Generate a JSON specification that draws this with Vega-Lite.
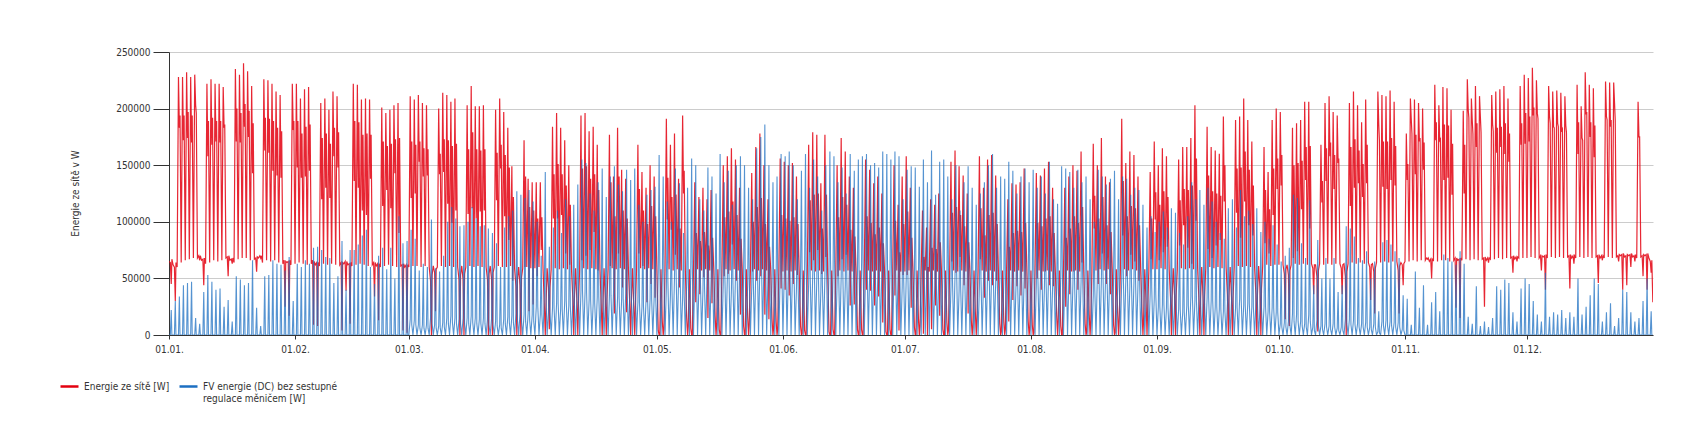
{
  "$schema": "https://vega.github.io/schema/vega-lite/v6.json",
  "width": 1484,
  "height": 283,
  "autosize": {"type": "none"},
  "padding": {"left": 169, "top": 52, "right": 52, "bottom": 88},
  "background": "white",
  "config": {
    "view": {"stroke": null},
    "font": "DejaVu Sans Condensed",
    "axis": {
      "labelFont": "DejaVu Sans Condensed",
      "titleFont": "DejaVu Sans Condensed",
      "labelFontSize": 10,
      "labelColor": "#333333",
      "domainColor": "#333333",
      "tickColor": "#333333",
      "gridColor": "#cccccc",
      "titleColor": "#333333",
      "titleFontWeight": "normal",
      "titleFontSize": 10
    },
    "legend": {
      "labelFont": "DejaVu Sans Condensed",
      "labelFontSize": 10,
      "labelColor": "#333333"
    }
  },
  "data": {
    "values": [
{"d":0,"r":65000,"b":0},{"d":0.33,"r":64000,"b":0},{"d":0.55,"r":45000,"b":22000},{"d":0.71,"r":67000,"b":0},
{"d":1,"r":62000,"b":0},{"d":1.33,"r":60000,"b":0},{"d":1.55,"r":30000,"b":30000},{"d":1.71,"r":64000,"b":0},
{"d":2,"r":60000,"b":0},{"d":2.33,"r":228000,"b":0},{"d":2.55,"r":183000,"b":34000},{"d":2.71,"r":194000,"b":0},
{"d":3,"r":64000,"b":0},{"d":3.33,"r":228000,"b":0},{"d":3.55,"r":172000,"b":44000},{"d":3.71,"r":194000,"b":0},
{"d":4,"r":66000,"b":0},{"d":4.33,"r":232000,"b":0},{"d":4.55,"r":174000,"b":46000},{"d":4.71,"r":197000,"b":0},
{"d":5,"r":67000,"b":0},{"d":5.33,"r":228000,"b":0},{"d":5.55,"r":170000,"b":47000},{"d":5.71,"r":194000,"b":0},
{"d":6,"r":68000,"b":0},{"d":6.33,"r":230000,"b":0},{"d":6.55,"r":203000,"b":15000},{"d":6.71,"r":196000,"b":0},
{"d":7,"r":68000,"b":0},{"d":7.33,"r":70000,"b":0},{"d":7.55,"r":66000,"b":10000},{"d":7.71,"r":70000,"b":0},
{"d":8,"r":66000,"b":0},{"d":8.33,"r":67000,"b":0},{"d":8.55,"r":44000,"b":38000},{"d":8.71,"r":68000,"b":0},
{"d":9,"r":63000,"b":0},{"d":9.33,"r":222000,"b":0},{"d":9.55,"r":158000,"b":53000},{"d":9.71,"r":189000,"b":0},
{"d":10,"r":64000,"b":0},{"d":10.33,"r":226000,"b":0},{"d":10.55,"r":168000,"b":47000},{"d":10.71,"r":192000,"b":0},
{"d":11,"r":66000,"b":0},{"d":11.33,"r":222000,"b":0},{"d":11.55,"r":171000,"b":40000},{"d":11.71,"r":189000,"b":0},
{"d":12,"r":65000,"b":0},{"d":12.33,"r":222000,"b":0},{"d":12.55,"r":170000,"b":41000},{"d":12.71,"r":189000,"b":0},
{"d":13,"r":66000,"b":0},{"d":13.33,"r":219000,"b":0},{"d":13.55,"r":183000,"b":25000},{"d":13.71,"r":186000,"b":0},
{"d":14,"r":68000,"b":0},{"d":14.33,"r":69000,"b":0},{"d":14.55,"r":52000,"b":31000},{"d":14.71,"r":70000,"b":0},
{"d":15,"r":66000,"b":0},{"d":15.33,"r":67000,"b":0},{"d":15.55,"r":63000,"b":12000},{"d":15.71,"r":68000,"b":0},
{"d":16,"r":64000,"b":0},{"d":16.33,"r":235000,"b":0},{"d":16.55,"r":171000,"b":52000},{"d":16.71,"r":200000,"b":0},
{"d":17,"r":67000,"b":0},{"d":17.33,"r":230000,"b":0},{"d":17.55,"r":170000,"b":49000},{"d":17.71,"r":196000,"b":0},
{"d":18,"r":68000,"b":0},{"d":18.33,"r":240000,"b":0},{"d":18.55,"r":184000,"b":44000},{"d":18.71,"r":204000,"b":0},
{"d":19,"r":68000,"b":0},{"d":19.33,"r":233000,"b":0},{"d":19.55,"r":175000,"b":46000},{"d":19.71,"r":198000,"b":0},
{"d":20,"r":66000,"b":0},{"d":20.33,"r":220000,"b":0},{"d":20.55,"r":143000,"b":66000},{"d":20.71,"r":187000,"b":0},
{"d":21,"r":67000,"b":0},{"d":21.33,"r":68000,"b":0},{"d":21.55,"r":56000,"b":24000},{"d":21.71,"r":69000,"b":0},
{"d":22,"r":68000,"b":0},{"d":22.33,"r":70000,"b":0},{"d":22.55,"r":68000,"b":8000},{"d":22.71,"r":70000,"b":0},
{"d":23,"r":64000,"b":0},{"d":23.33,"r":226000,"b":0},{"d":23.55,"r":163000,"b":52000},{"d":23.71,"r":192000,"b":0},
{"d":24,"r":66000,"b":0},{"d":24.33,"r":225000,"b":0},{"d":24.55,"r":161000,"b":53000},{"d":24.71,"r":191000,"b":0},
{"d":25,"r":65000,"b":0},{"d":25.33,"r":222000,"b":0},{"d":25.55,"r":145000,"b":66000},{"d":25.71,"r":189000,"b":0},
{"d":26,"r":66000,"b":0},{"d":26.33,"r":215000,"b":0},{"d":26.55,"r":141000,"b":63000},{"d":26.71,"r":183000,"b":0},
{"d":27,"r":64000,"b":0},{"d":27.33,"r":212000,"b":0},{"d":27.55,"r":139000,"b":62000},{"d":27.71,"r":180000,"b":0},
{"d":28,"r":63000,"b":0},{"d":28.33,"r":66000,"b":0},{"d":28.55,"r":25000,"b":57000},{"d":28.71,"r":65000,"b":0},
{"d":29,"r":64000,"b":0},{"d":29.33,"r":65000,"b":0},{"d":29.55,"r":17000,"b":69000},{"d":29.71,"r":66000,"b":0},
{"d":30,"r":62000,"b":0},{"d":30.33,"r":222000,"b":0},{"d":30.55,"r":181000,"b":30000},{"d":30.71,"r":189000,"b":0},
{"d":31,"r":63000,"b":0},{"d":31.33,"r":222000,"b":0},{"d":31.55,"r":148000,"b":63000},{"d":31.71,"r":189000,"b":0},
{"d":32,"r":64000,"b":0},{"d":32.33,"r":209000,"b":0},{"d":32.55,"r":139000,"b":60000},{"d":32.71,"r":178000,"b":0},
{"d":33,"r":63000,"b":0},{"d":33.33,"r":217000,"b":0},{"d":33.55,"r":140000,"b":66000},{"d":33.71,"r":184000,"b":0},
{"d":34,"r":62000,"b":0},{"d":34.33,"r":219000,"b":0},{"d":34.55,"r":145000,"b":63000},{"d":34.71,"r":186000,"b":0},
{"d":35,"r":63000,"b":0},{"d":35.33,"r":66000,"b":0},{"d":35.55,"r":9000,"b":77000},{"d":35.71,"r":65000,"b":0},
{"d":36,"r":62000,"b":0},{"d":36.33,"r":64000,"b":0},{"d":36.55,"r":8000,"b":78000},{"d":36.71,"r":64000,"b":0},
{"d":37,"r":61000,"b":0},{"d":37.33,"r":205000,"b":0},{"d":37.55,"r":120000,"b":75000},{"d":37.71,"r":174000,"b":0},
{"d":38,"r":63000,"b":0},{"d":38.33,"r":209000,"b":0},{"d":38.55,"r":130000,"b":69000},{"d":38.71,"r":178000,"b":0},
{"d":39,"r":62000,"b":0},{"d":39.33,"r":199000,"b":0},{"d":39.55,"r":121000,"b":68000},{"d":39.71,"r":169000,"b":0},
{"d":40,"r":63000,"b":0},{"d":40.33,"r":215000,"b":0},{"d":40.55,"r":158000,"b":46000},{"d":40.71,"r":183000,"b":0},
{"d":41,"r":62000,"b":0},{"d":41.33,"r":211000,"b":0},{"d":41.55,"r":148000,"b":52000},{"d":41.71,"r":179000,"b":0},
{"d":42,"r":62000,"b":0},{"d":42.33,"r":64000,"b":0},{"d":42.55,"r":4000,"b":83000},{"d":42.71,"r":64000,"b":0},
{"d":43,"r":63000,"b":0},{"d":43.33,"r":65000,"b":0},{"d":43.55,"r":39000,"b":40000},{"d":43.71,"r":65000,"b":0},
{"d":44,"r":62000,"b":0},{"d":44.33,"r":63000,"b":0},{"d":44.55,"r":10000,"b":75000},{"d":44.71,"r":64000,"b":0},
{"d":45,"r":61000,"b":0},{"d":45.33,"r":222000,"b":0},{"d":45.55,"r":136000,"b":75000},{"d":45.71,"r":189000,"b":0},
{"d":46,"r":62000,"b":0},{"d":46.33,"r":221000,"b":0},{"d":46.55,"r":130000,"b":80000},{"d":46.71,"r":188000,"b":0},
{"d":47,"r":63000,"b":0},{"d":47.33,"r":208000,"b":0},{"d":47.55,"r":110000,"b":88000},{"d":47.71,"r":177000,"b":0},
{"d":48,"r":62000,"b":0},{"d":48.33,"r":209000,"b":0},{"d":48.55,"r":106000,"b":93000},{"d":48.71,"r":178000,"b":0},
{"d":49,"r":61000,"b":0},{"d":49.33,"r":208000,"b":0},{"d":49.55,"r":138000,"b":60000},{"d":49.71,"r":177000,"b":0},
{"d":50,"r":62000,"b":0},{"d":50.33,"r":64000,"b":0},{"d":50.55,"r":34000,"b":45000},{"d":50.71,"r":64000,"b":0},
{"d":51,"r":61000,"b":0},{"d":51.33,"r":63000,"b":0},{"d":51.55,"r":13000,"b":70000},{"d":51.71,"r":63000,"b":0},
{"d":52,"r":60000,"b":0},{"d":52.33,"r":201000,"b":0},{"d":52.55,"r":114000,"b":77000},{"d":52.71,"r":171000,"b":0},
{"d":53,"r":61000,"b":0},{"d":53.33,"r":196000,"b":0},{"d":53.55,"r":128000,"b":58000},{"d":53.71,"r":167000,"b":0},
{"d":54,"r":62000,"b":0},{"d":54.33,"r":199000,"b":0},{"d":54.55,"r":112000,"b":77000},{"d":54.71,"r":169000,"b":0},
{"d":55,"r":61000,"b":0},{"d":55.33,"r":203000,"b":0},{"d":55.55,"r":143000,"b":50000},{"d":55.71,"r":173000,"b":0},
{"d":56,"r":60000,"b":0},{"d":56.33,"r":205000,"b":0},{"d":56.55,"r":90000,"b":105000},{"d":56.71,"r":174000,"b":0},
{"d":57,"r":61000,"b":0},{"d":57.33,"r":62000,"b":0},{"d":57.55,"r":4000,"b":81000},{"d":57.71,"r":63000,"b":0},
{"d":58,"r":60000,"b":0},{"d":58.33,"r":62000,"b":0},{"d":58.55,"r":2000,"b":83000},{"d":58.71,"r":62000,"b":0},
{"d":59,"r":60000,"b":0},{"d":59.33,"r":211000,"b":14000},{"d":59.55,"r":121000,"b":93000},{"d":59.71,"r":171000,"b":9000},
{"d":60,"r":61000,"b":0},{"d":60.33,"r":208000,"b":13000},{"d":60.55,"r":125000,"b":85000},{"d":60.71,"r":168000,"b":9000},
{"d":61,"r":61000,"b":0},{"d":61.33,"r":212000,"b":9000},{"d":61.55,"r":153000,"b":57000},{"d":61.71,"r":171000,"b":6000},
{"d":62,"r":60000,"b":0},{"d":62.33,"r":205000,"b":9000},{"d":62.55,"r":140000,"b":63000},{"d":62.71,"r":165000,"b":6000},
{"d":63,"r":61000,"b":0},{"d":63.33,"r":203000,"b":9000},{"d":63.55,"r":141000,"b":60000},{"d":63.71,"r":164000,"b":6000},
{"d":64,"r":60000,"b":0},{"d":64.33,"r":48000,"b":15000},{"d":64.55,"r":0,"b":102000},{"d":64.71,"r":53000,"b":10000},
{"d":65,"r":61000,"b":0},{"d":65.33,"r":55000,"b":9000},{"d":65.55,"r":21000,"b":59000},{"d":65.71,"r":58000,"b":6000},
{"d":66,"r":60000,"b":0},{"d":66.33,"r":200000,"b":8000},{"d":66.55,"r":142000,"b":56000},{"d":66.71,"r":160000,"b":6000},
{"d":67,"r":61000,"b":0},{"d":67.33,"r":214000,"b":11000},{"d":67.55,"r":144000,"b":70000},{"d":67.71,"r":173000,"b":7000},
{"d":68,"r":60000,"b":0},{"d":68.33,"r":212000,"b":15000},{"d":68.55,"r":116000,"b":100000},{"d":68.71,"r":172000,"b":10000},
{"d":69,"r":61000,"b":0},{"d":69.33,"r":206000,"b":17000},{"d":69.55,"r":99000,"b":113000},{"d":69.71,"r":167000,"b":11000},
{"d":70,"r":60000,"b":0},{"d":70.33,"r":209000,"b":15000},{"d":70.55,"r":110000,"b":103000},{"d":70.71,"r":169000,"b":10000},
{"d":71,"r":60000,"b":0},{"d":71.33,"r":49000,"b":14000},{"d":71.55,"r":0,"b":96000},{"d":71.71,"r":53000,"b":10000},
{"d":72,"r":61000,"b":0},{"d":72.33,"r":49000,"b":15000},{"d":72.55,"r":0,"b":97000},{"d":72.71,"r":54000,"b":10000},
{"d":73,"r":60000,"b":0},{"d":73.33,"r":203000,"b":15000},{"d":73.55,"r":107000,"b":100000},{"d":73.71,"r":164000,"b":10000},
{"d":74,"r":61000,"b":0},{"d":74.33,"r":220000,"b":17000},{"d":74.55,"r":112000,"b":113000},{"d":74.71,"r":179000,"b":11000},
{"d":75,"r":60000,"b":0},{"d":75.33,"r":202000,"b":15000},{"d":75.55,"r":103000,"b":103000},{"d":75.71,"r":164000,"b":10000},
{"d":76,"r":61000,"b":0},{"d":76.33,"r":202000,"b":14000},{"d":76.55,"r":109000,"b":96000},{"d":76.71,"r":163000,"b":10000},
{"d":77,"r":60000,"b":0},{"d":77.33,"r":203000,"b":15000},{"d":77.55,"r":110000,"b":97000},{"d":77.71,"r":164000,"b":10000},
{"d":78,"r":60000,"b":0},{"d":78.33,"r":49000,"b":14000},{"d":78.55,"r":0,"b":94000},{"d":78.71,"r":54000,"b":9000},
{"d":79,"r":61000,"b":0},{"d":79.33,"r":50000,"b":14000},{"d":79.55,"r":0,"b":90000},{"d":79.71,"r":55000,"b":9000},
{"d":80,"r":60000,"b":0},{"d":80.33,"r":199000,"b":12000},{"d":80.55,"r":119000,"b":81000},{"d":80.71,"r":161000,"b":8000},
{"d":81,"r":61000,"b":0},{"d":81.33,"r":209000,"b":9000},{"d":81.55,"r":147000,"b":60000},{"d":81.71,"r":168000,"b":6000},
{"d":82,"r":60000,"b":0},{"d":82.33,"r":197000,"b":14000},{"d":82.55,"r":105000,"b":95000},{"d":82.71,"r":159000,"b":10000},
{"d":83,"r":60000,"b":0},{"d":83.33,"r":183000,"b":16000},{"d":83.55,"r":84000,"b":105000},{"d":83.71,"r":148000,"b":11000},
{"d":84,"r":61000,"b":0},{"d":84.33,"r":149000,"b":17000},{"d":84.55,"r":48000,"b":110000},{"d":84.71,"r":122000,"b":11000},
{"d":85,"r":59000,"b":0},{"d":85.33,"r":43000,"b":19000},{"d":85.55,"r":0,"b":127000},{"d":85.71,"r":49000,"b":13000},
{"d":86,"r":60000,"b":0},{"d":86.33,"r":44000,"b":19000},{"d":86.55,"r":0,"b":124000},{"d":86.71,"r":51000,"b":12000},
{"d":87,"r":59000,"b":0},{"d":87.33,"r":172000,"b":18000},{"d":87.55,"r":60000,"b":121000},{"d":87.71,"r":140000,"b":12000},
{"d":88,"r":60000,"b":0},{"d":88.33,"r":138000,"b":19000},{"d":88.55,"r":21000,"b":128000},{"d":88.71,"r":113000,"b":13000},
{"d":89,"r":59000,"b":0},{"d":89.33,"r":135000,"b":18000},{"d":89.55,"r":27000,"b":118000},{"d":89.71,"r":110000,"b":12000},
{"d":90,"r":59000,"b":0},{"d":90.33,"r":135000,"b":25000},{"d":90.55,"r":52000,"b":100000},{"d":90.71,"r":103000,"b":25000},
{"d":91,"r":60000,"b":0},{"d":91.33,"r":135000,"b":18000},{"d":91.55,"r":75000,"b":70000},{"d":91.71,"r":104000,"b":18000},
{"d":92,"r":58000,"b":0},{"d":92.33,"r":25000,"b":36000},{"d":92.55,"r":0,"b":144000},{"d":92.71,"r":25000,"b":36000},
{"d":93,"r":59000,"b":0},{"d":93.33,"r":42000,"b":20000},{"d":93.55,"r":5000,"b":78000},{"d":93.71,"r":42000,"b":20000},
{"d":94,"r":58000,"b":0},{"d":94.33,"r":184000,"b":24000},{"d":94.55,"r":103000,"b":95000},{"d":94.71,"r":142000,"b":24000},
{"d":95,"r":59000,"b":0},{"d":95.33,"r":196000,"b":28000},{"d":95.55,"r":103000,"b":110000},{"d":95.71,"r":151000,"b":28000},
{"d":96,"r":58000,"b":0},{"d":96.33,"r":183000,"b":23000},{"d":96.55,"r":106000,"b":90000},{"d":96.71,"r":142000,"b":23000},
{"d":97,"r":59000,"b":0},{"d":97.33,"r":172000,"b":30000},{"d":97.55,"r":72000,"b":120000},{"d":97.71,"r":132000,"b":30000},
{"d":98,"r":58000,"b":0},{"d":98.33,"r":150000,"b":26000},{"d":98.55,"r":62000,"b":105000},{"d":98.71,"r":115000,"b":26000},
{"d":99,"r":58000,"b":0},{"d":99.33,"r":32000,"b":29000},{"d":99.55,"r":0,"b":115000},{"d":99.71,"r":32000,"b":29000},
{"d":100,"r":59000,"b":0},{"d":100.33,"r":29000,"b":33000},{"d":100.55,"r":0,"b":133000},{"d":100.71,"r":29000,"b":33000},
{"d":101,"r":58000,"b":0},{"d":101.33,"r":194000,"b":39000},{"d":101.55,"r":66000,"b":155000},{"d":101.71,"r":147000,"b":39000},
{"d":102,"r":59000,"b":0},{"d":102.33,"r":196000,"b":38000},{"d":102.55,"r":70000,"b":152000},{"d":102.71,"r":149000,"b":38000},
{"d":103,"r":58000,"b":0},{"d":103.33,"r":180000,"b":31000},{"d":103.55,"r":75000,"b":125000},{"d":103.71,"r":138000,"b":31000},
{"d":104,"r":59000,"b":0},{"d":104.33,"r":184000,"b":28000},{"d":104.55,"r":91000,"b":110000},{"d":104.71,"r":142000,"b":28000},
{"d":105,"r":58000,"b":0},{"d":105.33,"r":168000,"b":34000},{"d":105.55,"r":57000,"b":135000},{"d":105.71,"r":128000,"b":34000},
{"d":106,"r":58000,"b":0},{"d":106.33,"r":24000,"b":37000},{"d":106.55,"r":0,"b":147000},{"d":106.71,"r":24000,"b":37000},
{"d":107,"r":59000,"b":0},{"d":107.33,"r":31000,"b":31000},{"d":107.55,"r":0,"b":122000},{"d":107.71,"r":31000,"b":31000},
{"d":108,"r":58000,"b":0},{"d":108.33,"r":177000,"b":35000},{"d":108.55,"r":61000,"b":140000},{"d":108.71,"r":135000,"b":35000},
{"d":109,"r":59000,"b":0},{"d":109.33,"r":140000,"b":37000},{"d":109.55,"r":19000,"b":149000},{"d":109.71,"r":105000,"b":37000},
{"d":110,"r":58000,"b":0},{"d":110.33,"r":183000,"b":33000},{"d":110.55,"r":72000,"b":133000},{"d":110.71,"r":140000,"b":33000},
{"d":111,"r":59000,"b":0},{"d":111.33,"r":146000,"b":32000},{"d":111.55,"r":42000,"b":127000},{"d":111.71,"r":110000,"b":32000},
{"d":112,"r":58000,"b":0},{"d":112.33,"r":138000,"b":37000},{"d":112.55,"r":20000,"b":146000},{"d":112.71,"r":103000,"b":37000},
{"d":113,"r":58000,"b":0},{"d":113.33,"r":27000,"b":34000},{"d":113.55,"r":0,"b":137000},{"d":113.71,"r":27000,"b":34000},
{"d":114,"r":59000,"b":0},{"d":114.33,"r":25000,"b":37000},{"d":114.55,"r":0,"b":147000},{"d":114.71,"r":25000,"b":37000},
{"d":115,"r":58000,"b":0},{"d":115.33,"r":168000,"b":29000},{"d":115.55,"r":72000,"b":115000},{"d":115.71,"r":129000,"b":29000},
{"d":116,"r":59000,"b":0},{"d":116.33,"r":144000,"b":25000},{"d":116.55,"r":61000,"b":100000},{"d":116.71,"r":110000,"b":25000},
{"d":117,"r":58000,"b":0},{"d":117.33,"r":130000,"b":31000},{"d":117.55,"r":29000,"b":124000},{"d":117.71,"r":98000,"b":31000},
{"d":118,"r":59000,"b":0},{"d":118.33,"r":150000,"b":32000},{"d":118.55,"r":45000,"b":128000},{"d":118.71,"r":114000,"b":32000},
{"d":119,"r":58000,"b":0},{"d":119.33,"r":140000,"b":33000},{"d":119.55,"r":33000,"b":131000},{"d":119.71,"r":105000,"b":33000},
{"d":120,"r":57000,"b":0},{"d":120.33,"r":4000,"b":56000},{"d":120.55,"r":0,"b":159000},{"d":120.71,"r":0,"b":64000},
{"d":121,"r":58000,"b":0},{"d":121.33,"r":12000,"b":49000},{"d":121.55,"r":0,"b":140000},{"d":121.71,"r":5000,"b":56000},
{"d":122,"r":57000,"b":0},{"d":122.33,"r":191000,"b":41000},{"d":122.55,"r":102000,"b":118000},{"d":122.71,"r":139000,"b":47000},
{"d":123,"r":58000,"b":0},{"d":123.33,"r":168000,"b":35000},{"d":123.55,"r":93000,"b":100000},{"d":123.71,"r":122000,"b":40000},
{"d":124,"r":57000,"b":0},{"d":124.33,"r":178000,"b":51000},{"d":124.55,"r":71000,"b":147000},{"d":124.71,"r":124000,"b":59000},
{"d":125,"r":58000,"b":0},{"d":125.33,"r":138000,"b":47000},{"d":125.55,"r":42000,"b":134000},{"d":125.71,"r":94000,"b":54000},
{"d":126,"r":57000,"b":0},{"d":126.33,"r":194000,"b":32000},{"d":126.55,"r":125000,"b":90000},{"d":126.71,"r":145000,"b":36000},
{"d":127,"r":57000,"b":0},{"d":127.33,"r":15000,"b":46000},{"d":127.55,"r":0,"b":130000},{"d":127.71,"r":8000,"b":52000},
{"d":128,"r":58000,"b":0},{"d":128.33,"r":6000,"b":55000},{"d":128.55,"r":0,"b":156000},{"d":128.71,"r":0,"b":62000},
{"d":129,"r":57000,"b":0},{"d":129.33,"r":135000,"b":53000},{"d":129.55,"r":29000,"b":150000},{"d":129.71,"r":90000,"b":60000},
{"d":130,"r":58000,"b":0},{"d":130.33,"r":122000,"b":42000},{"d":130.55,"r":36000,"b":120000},{"d":130.71,"r":83000,"b":48000},
{"d":131,"r":57000,"b":0},{"d":131.33,"r":130000,"b":39000},{"d":131.55,"r":51000,"b":110000},{"d":131.71,"r":91000,"b":44000},
{"d":132,"r":58000,"b":0},{"d":132.33,"r":120000,"b":52000},{"d":132.55,"r":15000,"b":148000},{"d":132.71,"r":79000,"b":59000},
{"d":133,"r":57000,"b":0},{"d":133.33,"r":128000,"b":49000},{"d":133.55,"r":28000,"b":140000},{"d":133.71,"r":86000,"b":56000},
{"d":134,"r":57000,"b":0},{"d":134.33,"r":16000,"b":44000},{"d":134.55,"r":0,"b":125000},{"d":134.71,"r":10000,"b":50000},
{"d":135,"r":58000,"b":0},{"d":135.33,"r":5000,"b":56000},{"d":135.55,"r":0,"b":160000},{"d":135.71,"r":0,"b":64000},
{"d":136,"r":57000,"b":0},{"d":136.33,"r":150000,"b":47000},{"d":136.55,"r":52000,"b":135000},{"d":136.71,"r":104000,"b":54000},
{"d":137,"r":58000,"b":0},{"d":137.33,"r":158000,"b":51000},{"d":137.55,"r":54000,"b":145000},{"d":137.71,"r":109000,"b":58000},
{"d":138,"r":57000,"b":0},{"d":138.33,"r":165000,"b":40000},{"d":138.55,"r":80000,"b":115000},{"d":138.71,"r":118000,"b":46000},
{"d":139,"r":58000,"b":0},{"d":139.33,"r":155000,"b":53000},{"d":139.55,"r":48000,"b":150000},{"d":139.71,"r":106000,"b":60000},
{"d":140,"r":57000,"b":0},{"d":140.33,"r":130000,"b":55000},{"d":140.55,"r":18000,"b":158000},{"d":140.71,"r":85000,"b":63000},
{"d":141,"r":57000,"b":0},{"d":141.33,"r":8000,"b":53000},{"d":141.55,"r":0,"b":150000},{"d":141.71,"r":0,"b":60000},
{"d":142,"r":58000,"b":0},{"d":142.33,"r":16000,"b":46000},{"d":142.55,"r":0,"b":130000},{"d":142.71,"r":9000,"b":52000},
{"d":143,"r":57000,"b":0},{"d":143.33,"r":143000,"b":42000},{"d":143.55,"r":56000,"b":120000},{"d":143.71,"r":100000,"b":48000},
{"d":144,"r":58000,"b":0},{"d":144.33,"r":166000,"b":58000},{"d":144.55,"r":48000,"b":165000},{"d":144.71,"r":113000,"b":66000},
{"d":145,"r":57000,"b":0},{"d":145.33,"r":178000,"b":61000},{"d":145.55,"r":52000,"b":175000},{"d":145.71,"r":121000,"b":70000},
{"d":146,"r":58000,"b":0},{"d":146.33,"r":150000,"b":65000},{"d":146.55,"r":18000,"b":186000},{"d":146.71,"r":98000,"b":74000},
{"d":147,"r":57000,"b":0},{"d":147.33,"r":120000,"b":53000},{"d":147.55,"r":14000,"b":150000},{"d":147.71,"r":78000,"b":60000},
{"d":148,"r":57000,"b":0},{"d":148.33,"r":13000,"b":47000},{"d":148.55,"r":0,"b":135000},{"d":148.71,"r":6000,"b":54000},
{"d":149,"r":58000,"b":0},{"d":149.33,"r":12000,"b":49000},{"d":149.55,"r":0,"b":140000},{"d":149.71,"r":5000,"b":56000},
{"d":150,"r":57000,"b":0},{"d":150.33,"r":156000,"b":56000},{"d":150.55,"r":41000,"b":160000},{"d":150.71,"r":106000,"b":64000},
{"d":151,"r":56000,"b":0},{"d":151.33,"r":153000,"b":55000},{"d":151.55,"r":40000,"b":158000},{"d":151.71,"r":103000,"b":63000},
{"d":152,"r":57000,"b":0},{"d":152.33,"r":150000,"b":57000},{"d":152.55,"r":35000,"b":162000},{"d":152.71,"r":101000,"b":65000},
{"d":153,"r":56000,"b":0},{"d":153.33,"r":152000,"b":53000},{"d":153.55,"r":45000,"b":150000},{"d":153.71,"r":104000,"b":60000},
{"d":154,"r":57000,"b":0},{"d":154.33,"r":140000,"b":42000},{"d":154.55,"r":53000,"b":120000},{"d":154.71,"r":98000,"b":48000},
{"d":155,"r":56000,"b":0},{"d":155.33,"r":8000,"b":51000},{"d":155.55,"r":0,"b":145000},{"d":155.71,"r":1000,"b":58000},
{"d":156,"r":57000,"b":0},{"d":156.33,"r":4000,"b":56000},{"d":156.55,"r":0,"b":160000},{"d":156.71,"r":0,"b":64000},
{"d":157,"r":56000,"b":0},{"d":157.33,"r":168000,"b":46000},{"d":157.55,"r":73000,"b":130000},{"d":157.71,"r":119000,"b":52000},
{"d":158,"r":57000,"b":0},{"d":158.33,"r":179000,"b":54000},{"d":158.55,"r":66000,"b":155000},{"d":158.71,"r":124000,"b":62000},
{"d":159,"r":56000,"b":0},{"d":159.33,"r":177000,"b":49000},{"d":159.55,"r":75000,"b":140000},{"d":159.71,"r":125000,"b":56000},
{"d":160,"r":57000,"b":0},{"d":160.33,"r":134000,"b":39000},{"d":160.55,"r":54000,"b":110000},{"d":160.71,"r":94000,"b":44000},
{"d":161,"r":56000,"b":0},{"d":161.33,"r":177000,"b":53000},{"d":161.55,"r":69000,"b":150000},{"d":161.71,"r":124000,"b":60000},
{"d":162,"r":56000,"b":0},{"d":162.33,"r":3000,"b":57000},{"d":162.55,"r":0,"b":162000},{"d":162.71,"r":0,"b":65000},
{"d":163,"r":57000,"b":0},{"d":163.33,"r":5000,"b":55000},{"d":163.55,"r":0,"b":158000},{"d":163.71,"r":0,"b":63000},
{"d":164,"r":56000,"b":0},{"d":164.33,"r":150000,"b":47000},{"d":164.55,"r":52000,"b":135000},{"d":164.71,"r":104000,"b":54000},
{"d":165,"r":57000,"b":0},{"d":165.33,"r":174000,"b":52000},{"d":165.55,"r":67000,"b":148000},{"d":165.71,"r":122000,"b":59000},
{"d":166,"r":56000,"b":0},{"d":166.33,"r":162000,"b":44000},{"d":166.55,"r":71000,"b":125000},{"d":166.71,"r":115000,"b":50000},
{"d":167,"r":57000,"b":0},{"d":167.33,"r":140000,"b":56000},{"d":167.55,"r":26000,"b":160000},{"d":167.71,"r":93000,"b":64000},
{"d":168,"r":56000,"b":0},{"d":168.33,"r":130000,"b":51000},{"d":168.55,"r":27000,"b":145000},{"d":168.71,"r":87000,"b":58000},
{"d":169,"r":56000,"b":0},{"d":169.33,"r":5000,"b":54000},{"d":169.55,"r":0,"b":155000},{"d":169.71,"r":0,"b":62000},
{"d":170,"r":57000,"b":0},{"d":170.33,"r":5000,"b":55000},{"d":170.55,"r":0,"b":158000},{"d":170.71,"r":0,"b":63000},
{"d":171,"r":56000,"b":0},{"d":171.33,"r":155000,"b":56000},{"d":171.55,"r":40000,"b":160000},{"d":171.71,"r":105000,"b":64000},
{"d":172,"r":57000,"b":0},{"d":172.33,"r":146000,"b":53000},{"d":172.55,"r":39000,"b":150000},{"d":172.71,"r":99000,"b":60000},
{"d":173,"r":56000,"b":0},{"d":173.33,"r":134000,"b":53000},{"d":173.55,"r":26000,"b":152000},{"d":173.71,"r":89000,"b":61000},
{"d":174,"r":57000,"b":0},{"d":174.33,"r":140000,"b":52000},{"d":174.55,"r":34000,"b":148000},{"d":174.71,"r":95000,"b":59000},
{"d":175,"r":56000,"b":0},{"d":175.33,"r":125000,"b":57000},{"d":175.55,"r":11000,"b":162000},{"d":175.71,"r":81000,"b":65000},
{"d":176,"r":56000,"b":0},{"d":176.33,"r":3000,"b":56000},{"d":176.55,"r":0,"b":160000},{"d":176.71,"r":0,"b":64000},
{"d":177,"r":57000,"b":0},{"d":177.33,"r":5000,"b":54000},{"d":177.55,"r":0,"b":155000},{"d":177.71,"r":0,"b":62000},
{"d":178,"r":56000,"b":0},{"d":178.33,"r":150000,"b":57000},{"d":178.55,"r":35000,"b":162000},{"d":178.71,"r":101000,"b":65000},
{"d":179,"r":57000,"b":0},{"d":179.33,"r":115000,"b":55000},{"d":179.55,"r":4000,"b":158000},{"d":179.71,"r":73000,"b":63000},
{"d":180,"r":56000,"b":0},{"d":180.33,"r":140000,"b":42000},{"d":180.55,"r":53000,"b":120000},{"d":180.71,"r":98000,"b":48000},
{"d":181,"r":56000,"b":0},{"d":181.33,"r":158000,"b":51000},{"d":181.55,"r":53000,"b":146000},{"d":181.71,"r":109000,"b":58000},
{"d":182,"r":57000,"b":0},{"d":182.33,"r":130000,"b":52000},{"d":182.55,"r":24000,"b":149000},{"d":182.71,"r":86000,"b":60000},
{"d":183,"r":56000,"b":0},{"d":183.33,"r":7000,"b":52000},{"d":183.55,"r":0,"b":148000},{"d":183.71,"r":0,"b":59000},
{"d":184,"r":57000,"b":0},{"d":184.33,"r":14000,"b":46000},{"d":184.55,"r":0,"b":131000},{"d":184.71,"r":8000,"b":52000},
{"d":185,"r":56000,"b":0},{"d":185.33,"r":110000,"b":54000},{"d":185.55,"r":1000,"b":155000},{"d":185.71,"r":69000,"b":62000},
{"d":186,"r":57000,"b":0},{"d":186.33,"r":95000,"b":47000},{"d":186.55,"r":0,"b":135000},{"d":186.71,"r":60000,"b":54000},
{"d":187,"r":56000,"b":0},{"d":187.33,"r":120000,"b":57000},{"d":187.55,"r":5000,"b":163000},{"d":187.71,"r":77000,"b":65000},
{"d":188,"r":57000,"b":0},{"d":188.33,"r":115000,"b":43000},{"d":188.55,"r":26000,"b":124000},{"d":188.71,"r":76000,"b":50000},
{"d":189,"r":56000,"b":0},{"d":189.33,"r":125000,"b":54000},{"d":189.55,"r":17000,"b":153000},{"d":189.71,"r":82000,"b":61000},
{"d":190,"r":56000,"b":0},{"d":190.33,"r":5000,"b":54000},{"d":190.55,"r":0,"b":155000},{"d":190.71,"r":0,"b":62000},
{"d":191,"r":57000,"b":0},{"d":191.33,"r":11000,"b":49000},{"d":191.55,"r":0,"b":140000},{"d":191.71,"r":4000,"b":56000},
{"d":192,"r":56000,"b":0},{"d":192.33,"r":153000,"b":42000},{"d":192.55,"r":65000,"b":120000},{"d":192.71,"r":108000,"b":48000},
{"d":193,"r":57000,"b":0},{"d":193.33,"r":163000,"b":53000},{"d":193.55,"r":55000,"b":150000},{"d":193.71,"r":113000,"b":60000},
{"d":194,"r":56000,"b":0},{"d":194.33,"r":149000,"b":39000},{"d":194.55,"r":69000,"b":110000},{"d":194.71,"r":106000,"b":44000},
{"d":195,"r":57000,"b":0},{"d":195.33,"r":141000,"b":47000},{"d":195.55,"r":44000,"b":135000},{"d":195.71,"r":96000,"b":54000},
{"d":196,"r":56000,"b":0},{"d":196.33,"r":125000,"b":52000},{"d":196.55,"r":19000,"b":149000},{"d":196.71,"r":82000,"b":60000},
{"d":197,"r":56000,"b":0},{"d":197.33,"r":13000,"b":46000},{"d":197.55,"r":0,"b":130000},{"d":197.71,"r":7000,"b":52000},
{"d":198,"r":57000,"b":0},{"d":198.33,"r":20000,"b":40000},{"d":198.55,"r":0,"b":115000},{"d":198.71,"r":14000,"b":46000},
{"d":199,"r":56000,"b":0},{"d":199.33,"r":158000,"b":44000},{"d":199.55,"r":67000,"b":125000},{"d":199.71,"r":112000,"b":50000},
{"d":200,"r":57000,"b":0},{"d":200.33,"r":130000,"b":47000},{"d":200.55,"r":33000,"b":135000},{"d":200.71,"r":88000,"b":54000},
{"d":201,"r":56000,"b":0},{"d":201.33,"r":155000,"b":53000},{"d":201.55,"r":48000,"b":150000},{"d":201.71,"r":106000,"b":60000},
{"d":202,"r":57000,"b":0},{"d":202.33,"r":159000,"b":56000},{"d":202.55,"r":44000,"b":160000},{"d":202.71,"r":108000,"b":64000},
{"d":203,"r":56000,"b":0},{"d":203.33,"r":141000,"b":46000},{"d":203.55,"r":48000,"b":130000},{"d":203.71,"r":98000,"b":52000},
{"d":204,"r":56000,"b":0},{"d":204.33,"r":10000,"b":49000},{"d":204.55,"r":0,"b":140000},{"d":204.71,"r":3000,"b":56000},
{"d":205,"r":57000,"b":0},{"d":205.33,"r":12000,"b":48000},{"d":205.55,"r":0,"b":138000},{"d":205.71,"r":5000,"b":55000},
{"d":206,"r":56000,"b":0},{"d":206.33,"r":120000,"b":54000},{"d":206.55,"r":12000,"b":153000},{"d":206.71,"r":78000,"b":61000},
{"d":207,"r":57000,"b":0},{"d":207.33,"r":134000,"b":51000},{"d":207.55,"r":31000,"b":145000},{"d":207.71,"r":90000,"b":58000},
{"d":208,"r":56000,"b":0},{"d":208.33,"r":133000,"b":44000},{"d":208.55,"r":43000,"b":125000},{"d":208.71,"r":92000,"b":50000},
{"d":209,"r":57000,"b":0},{"d":209.33,"r":135000,"b":49000},{"d":209.55,"r":35000,"b":140000},{"d":209.71,"r":91000,"b":56000},
{"d":210,"r":56000,"b":0},{"d":210.33,"r":147000,"b":51000},{"d":210.55,"r":41000,"b":147000},{"d":210.71,"r":99000,"b":59000},
{"d":211,"r":56000,"b":0},{"d":211.33,"r":12000,"b":47000},{"d":211.55,"r":0,"b":135000},{"d":211.71,"r":5000,"b":54000},
{"d":212,"r":57000,"b":0},{"d":212.33,"r":9000,"b":51000},{"d":212.55,"r":0,"b":146000},{"d":212.71,"r":2000,"b":58000},
{"d":213,"r":56000,"b":0},{"d":213.33,"r":143000,"b":46000},{"d":213.55,"r":50000,"b":130000},{"d":213.71,"r":99000,"b":52000},
{"d":214,"r":57000,"b":0},{"d":214.33,"r":141000,"b":49000},{"d":214.55,"r":40000,"b":140000},{"d":214.71,"r":96000,"b":56000},
{"d":215,"r":56000,"b":0},{"d":215.33,"r":147000,"b":44000},{"d":215.55,"r":56000,"b":125000},{"d":215.71,"r":103000,"b":50000},
{"d":216,"r":57000,"b":0},{"d":216.33,"r":153000,"b":54000},{"d":216.55,"r":44000,"b":153000},{"d":216.71,"r":105000,"b":61000},
{"d":217,"r":56000,"b":0},{"d":217.33,"r":130000,"b":42000},{"d":217.55,"r":43000,"b":120000},{"d":217.71,"r":90000,"b":48000},
{"d":218,"r":56000,"b":0},{"d":218.33,"r":18000,"b":41000},{"d":218.55,"r":0,"b":116000},{"d":218.71,"r":13000,"b":46000},
{"d":219,"r":57000,"b":0},{"d":219.33,"r":8000,"b":52000},{"d":219.55,"r":0,"b":149000},{"d":219.71,"r":0,"b":60000},
{"d":220,"r":56000,"b":0},{"d":220.33,"r":130000,"b":51000},{"d":220.55,"r":25000,"b":147000},{"d":220.71,"r":86000,"b":59000},
{"d":221,"r":57000,"b":0},{"d":221.33,"r":140000,"b":50000},{"d":221.55,"r":36000,"b":144000},{"d":221.71,"r":94000,"b":58000},
{"d":222,"r":56000,"b":0},{"d":222.33,"r":150000,"b":46000},{"d":222.55,"r":56000,"b":130000},{"d":222.71,"r":105000,"b":52000},
{"d":223,"r":57000,"b":0},{"d":223.33,"r":145000,"b":51000},{"d":223.55,"r":40000,"b":146000},{"d":223.71,"r":99000,"b":58000},
{"d":224,"r":56000,"b":0},{"d":224.33,"r":162000,"b":47000},{"d":224.55,"r":64000,"b":135000},{"d":224.71,"r":113000,"b":54000},
{"d":225,"r":56000,"b":0},{"d":225.33,"r":10000,"b":49000},{"d":225.55,"r":0,"b":140000},{"d":225.71,"r":3000,"b":56000},
{"d":226,"r":57000,"b":0},{"d":226.33,"r":18000,"b":42000},{"d":226.55,"r":0,"b":120000},{"d":226.71,"r":12000,"b":48000},
{"d":227,"r":57000,"b":0},{"d":227.33,"r":169000,"b":35000},{"d":227.55,"r":94000,"b":100000},{"d":227.71,"r":123000,"b":40000},
{"d":228,"r":57000,"b":0},{"d":228.33,"r":150000,"b":51000},{"d":228.55,"r":45000,"b":146000},{"d":228.71,"r":103000,"b":58000},
{"d":229,"r":58000,"b":0},{"d":229.33,"r":174000,"b":49000},{"d":229.55,"r":72000,"b":140000},{"d":229.71,"r":122000,"b":56000},
{"d":230,"r":57000,"b":0},{"d":230.33,"r":140000,"b":47000},{"d":230.55,"r":45000,"b":133000},{"d":230.71,"r":97000,"b":53000},
{"d":231,"r":58000,"b":0},{"d":231.33,"r":135000,"b":48000},{"d":231.55,"r":36000,"b":138000},{"d":231.71,"r":91000,"b":55000},
{"d":232,"r":57000,"b":0},{"d":232.33,"r":9000,"b":51000},{"d":232.55,"r":0,"b":145000},{"d":232.71,"r":2000,"b":58000},
{"d":233,"r":58000,"b":0},{"d":233.33,"r":19000,"b":42000},{"d":233.55,"r":0,"b":120000},{"d":233.71,"r":13000,"b":48000},
{"d":234,"r":57000,"b":0},{"d":234.33,"r":191000,"b":49000},{"d":234.55,"r":88000,"b":140000},{"d":234.71,"r":136000,"b":56000},
{"d":235,"r":58000,"b":0},{"d":235.33,"r":152000,"b":48000},{"d":235.55,"r":52000,"b":138000},{"d":235.71,"r":105000,"b":55000},
{"d":236,"r":57000,"b":0},{"d":236.33,"r":162000,"b":43000},{"d":236.55,"r":71000,"b":124000},{"d":236.71,"r":114000,"b":50000},
{"d":237,"r":58000,"b":0},{"d":237.33,"r":159000,"b":46000},{"d":237.55,"r":65000,"b":130000},{"d":237.71,"r":112000,"b":52000},
{"d":238,"r":57000,"b":0},{"d":238.33,"r":140000,"b":45000},{"d":238.55,"r":48000,"b":128000},{"d":238.71,"r":97000,"b":51000},
{"d":239,"r":57000,"b":0},{"d":239.33,"r":20000,"b":40000},{"d":239.55,"r":0,"b":115000},{"d":239.71,"r":14000,"b":46000},
{"d":240,"r":58000,"b":0},{"d":240.33,"r":28000,"b":33000},{"d":240.55,"r":0,"b":95000},{"d":240.71,"r":23000,"b":38000},
{"d":241,"r":57000,"b":0},{"d":241.33,"r":144000,"b":37000},{"d":241.55,"r":67000,"b":105000},{"d":241.71,"r":103000,"b":42000},
{"d":242,"r":58000,"b":0},{"d":242.33,"r":171000,"b":32000},{"d":242.55,"r":102000,"b":91000},{"d":242.71,"r":126000,"b":36000},
{"d":243,"r":58000,"b":0},{"d":243.33,"r":150000,"b":25000},{"d":243.55,"r":66000,"b":100000},{"d":243.71,"r":115000,"b":25000},
{"d":244,"r":59000,"b":0},{"d":244.33,"r":165000,"b":27000},{"d":244.55,"r":73000,"b":109000},{"d":244.71,"r":127000,"b":27000},
{"d":245,"r":58000,"b":0},{"d":245.33,"r":158000,"b":24000},{"d":245.55,"r":78000,"b":95000},{"d":245.71,"r":122000,"b":24000},
{"d":246,"r":58000,"b":0},{"d":246.33,"r":33000,"b":28000},{"d":246.55,"r":0,"b":112000},{"d":246.71,"r":33000,"b":28000},
{"d":247,"r":59000,"b":0},{"d":247.33,"r":35000,"b":27000},{"d":247.55,"r":0,"b":108000},{"d":247.71,"r":35000,"b":27000},
{"d":248,"r":58000,"b":0},{"d":248.33,"r":155000,"b":23000},{"d":248.55,"r":79000,"b":90000},{"d":248.71,"r":119000,"b":23000},
{"d":249,"r":59000,"b":0},{"d":249.33,"r":166000,"b":20000},{"d":249.55,"r":97000,"b":80000},{"d":249.71,"r":129000,"b":20000},
{"d":250,"r":58000,"b":0},{"d":250.33,"r":166000,"b":26000},{"d":250.55,"r":77000,"b":105000},{"d":250.71,"r":128000,"b":26000},
{"d":251,"r":59000,"b":0},{"d":251.33,"r":174000,"b":34000},{"d":251.55,"r":63000,"b":135000},{"d":251.71,"r":132000,"b":34000},
{"d":252,"r":58000,"b":0},{"d":252.33,"r":203000,"b":30000},{"d":252.55,"r":101000,"b":120000},{"d":252.71,"r":156000,"b":30000},
{"d":253,"r":59000,"b":0},{"d":253.33,"r":30000,"b":32000},{"d":253.55,"r":0,"b":128000},{"d":253.71,"r":30000,"b":32000},
{"d":254,"r":60000,"b":0},{"d":254.33,"r":34000,"b":29000},{"d":254.55,"r":0,"b":115000},{"d":254.71,"r":34000,"b":29000},
{"d":255,"r":59000,"b":0},{"d":255.33,"r":184000,"b":33000},{"d":255.55,"r":76000,"b":130000},{"d":255.71,"r":141000,"b":33000},
{"d":256,"r":60000,"b":0},{"d":256.33,"r":166000,"b":30000},{"d":256.55,"r":68000,"b":118000},{"d":256.71,"r":127000,"b":30000},
{"d":257,"r":59000,"b":0},{"d":257.33,"r":163000,"b":25000},{"d":257.55,"r":79000,"b":100000},{"d":257.71,"r":125000,"b":25000},
{"d":258,"r":60000,"b":0},{"d":258.33,"r":160000,"b":23000},{"d":258.55,"r":84000,"b":90000},{"d":258.71,"r":123000,"b":23000},
{"d":259,"r":59000,"b":0},{"d":259.33,"r":193000,"b":21000},{"d":259.55,"r":118000,"b":85000},{"d":259.71,"r":150000,"b":21000},
{"d":260,"r":60000,"b":0},{"d":260.33,"r":35000,"b":28000},{"d":260.55,"r":0,"b":112000},{"d":260.71,"r":35000,"b":28000},
{"d":261,"r":60000,"b":0},{"d":261.33,"r":33000,"b":30000},{"d":261.55,"r":0,"b":120000},{"d":261.71,"r":33000,"b":30000},
{"d":262,"r":60000,"b":0},{"d":262.33,"r":190000,"b":24000},{"d":262.55,"r":108000,"b":95000},{"d":262.71,"r":147000,"b":24000},
{"d":263,"r":61000,"b":0},{"d":263.33,"r":193000,"b":32000},{"d":263.55,"r":86000,"b":128000},{"d":263.71,"r":148000,"b":32000},
{"d":264,"r":60000,"b":0},{"d":264.33,"r":209000,"b":26000},{"d":264.55,"r":118000,"b":105000},{"d":264.71,"r":162000,"b":26000},
{"d":265,"r":61000,"b":0},{"d":265.33,"r":190000,"b":28000},{"d":265.55,"r":97000,"b":110000},{"d":265.71,"r":146000,"b":28000},
{"d":266,"r":60000,"b":0},{"d":266.33,"r":171000,"b":25000},{"d":266.55,"r":88000,"b":98000},{"d":266.71,"r":132000,"b":25000},
{"d":267,"r":61000,"b":0},{"d":267.33,"r":36000,"b":28000},{"d":267.55,"r":0,"b":112000},{"d":267.71,"r":36000,"b":28000},
{"d":268,"r":61000,"b":0},{"d":268.33,"r":41000,"b":23000},{"d":268.55,"r":0,"b":91000},{"d":268.71,"r":41000,"b":23000},
{"d":269,"r":61000,"b":0},{"d":269.33,"r":166000,"b":25000},{"d":269.55,"r":81000,"b":100000},{"d":269.71,"r":128000,"b":25000},
{"d":270,"r":62000,"b":0},{"d":270.33,"r":144000,"b":21000},{"d":270.55,"r":72000,"b":85000},{"d":270.71,"r":111000,"b":21000},
{"d":271,"r":61000,"b":0},{"d":271.33,"r":190000,"b":24000},{"d":271.55,"r":106000,"b":97000},{"d":271.71,"r":147000,"b":24000},
{"d":272,"r":62000,"b":0},{"d":272.33,"r":200000,"b":20000},{"d":272.55,"r":129000,"b":80000},{"d":272.71,"r":156000,"b":20000},
{"d":273,"r":62000,"b":0},{"d":273.33,"r":197000,"b":10000},{"d":273.55,"r":132000,"b":65000},{"d":273.71,"r":159000,"b":7000},
{"d":274,"r":62000,"b":0},{"d":274.33,"r":54000,"b":11000},{"d":274.55,"r":14000,"b":70000},{"d":274.71,"r":58000,"b":7000},
{"d":275,"r":62000,"b":0},{"d":275.33,"r":53000,"b":12000},{"d":275.55,"r":8000,"b":77000},{"d":275.71,"r":57000,"b":8000},
{"d":276,"r":62000,"b":0},{"d":276.33,"r":183000,"b":19000},{"d":276.55,"r":68000,"b":124000},{"d":276.71,"r":150000,"b":12000},
{"d":277,"r":63000,"b":0},{"d":277.33,"r":187000,"b":18000},{"d":277.55,"r":74000,"b":121000},{"d":277.71,"r":152000,"b":12000},
{"d":278,"r":62000,"b":0},{"d":278.33,"r":190000,"b":12000},{"d":278.55,"r":111000,"b":81000},{"d":278.71,"r":154000,"b":8000},
{"d":279,"r":63000,"b":0},{"d":279.33,"r":206000,"b":10000},{"d":279.55,"r":137000,"b":68000},{"d":279.71,"r":166000,"b":7000},
{"d":280,"r":62000,"b":0},{"d":280.33,"r":206000,"b":18000},{"d":280.55,"r":94000,"b":119000},{"d":280.71,"r":167000,"b":12000},
{"d":281,"r":63000,"b":0},{"d":281.33,"r":59000,"b":7000},{"d":281.55,"r":36000,"b":44000},{"d":281.71,"r":62000,"b":4000},
{"d":282,"r":62000,"b":0},{"d":282.33,"r":52000,"b":13000},{"d":282.55,"r":3000,"b":84000},{"d":282.71,"r":57000,"b":8000},
{"d":283,"r":63000,"b":0},{"d":283.33,"r":168000,"b":8000},{"d":283.55,"r":117000,"b":50000},{"d":283.71,"r":136000,"b":5000},
{"d":284,"r":62000,"b":0},{"d":284.33,"r":205000,"b":10000},{"d":284.55,"r":136000,"b":68000},{"d":284.71,"r":165000,"b":7000},
{"d":285,"r":63000,"b":0},{"d":285.33,"r":211000,"b":8000},{"d":285.55,"r":158000,"b":50000},{"d":285.71,"r":170000,"b":5000},
{"d":286,"r":62000,"b":0},{"d":286.33,"r":197000,"b":10000},{"d":286.55,"r":129000,"b":68000},{"d":286.71,"r":159000,"b":7000},
{"d":287,"r":63000,"b":0},{"d":287.33,"r":194000,"b":6000},{"d":287.55,"r":152000,"b":38000},{"d":287.71,"r":156000,"b":4000},
{"d":288,"r":63000,"b":0},{"d":288.33,"r":59000,"b":7000},{"d":288.55,"r":36000,"b":44000},{"d":288.71,"r":62000,"b":4000},
{"d":289,"r":63000,"b":0},{"d":289.33,"r":52000,"b":14000},{"d":289.55,"r":0,"b":96000},{"d":289.71,"r":56000,"b":10000},
{"d":290,"r":63000,"b":0},{"d":290.33,"r":205000,"b":14000},{"d":290.55,"r":114000,"b":94000},{"d":290.71,"r":166000,"b":9000},
{"d":291,"r":64000,"b":0},{"d":291.33,"r":215000,"b":13000},{"d":291.55,"r":130000,"b":87000},{"d":291.71,"r":173000,"b":9000},
{"d":292,"r":63000,"b":0},{"d":292.33,"r":203000,"b":10000},{"d":292.55,"r":134000,"b":68000},{"d":292.71,"r":163000,"b":7000},
{"d":293,"r":64000,"b":0},{"d":293.33,"r":188000,"b":10000},{"d":293.55,"r":122000,"b":66000},{"d":293.71,"r":151000,"b":7000},
{"d":294,"r":63000,"b":0},{"d":294.33,"r":208000,"b":11000},{"d":294.55,"r":134000,"b":74000},{"d":294.71,"r":168000,"b":7000},
{"d":295,"r":64000,"b":0},{"d":295.33,"r":60000,"b":7000},{"d":295.55,"r":31000,"b":50000},{"d":295.71,"r":62000,"b":5000},
{"d":296,"r":63000,"b":0},{"d":296.33,"r":56000,"b":10000},{"d":296.55,"r":19000,"b":65000},{"d":296.71,"r":59000,"b":7000},
{"d":297,"r":64000,"b":0},{"d":297.33,"r":215000,"b":3000},{"d":297.55,"r":186000,"b":21000},{"d":297.71,"r":172000,"b":2000},
{"d":298,"r":64000,"b":0},{"d":298.33,"r":212000,"b":12000},{"d":298.55,"r":131000,"b":82000},{"d":298.71,"r":171000,"b":8000},
{"d":299,"r":65000,"b":0},{"d":299.33,"r":211000,"b":13000},{"d":299.55,"r":129000,"b":84000},{"d":299.71,"r":171000,"b":8000},
{"d":300,"r":64000,"b":0},{"d":300.33,"r":216000,"b":12000},{"d":300.55,"r":137000,"b":80000},{"d":300.71,"r":174000,"b":8000},
{"d":301,"r":65000,"b":0},{"d":301.33,"r":206000,"b":11000},{"d":301.55,"r":132000,"b":74000},{"d":301.71,"r":167000,"b":7000},
{"d":302,"r":65000,"b":0},{"d":302.33,"r":57000,"b":11000},{"d":302.55,"r":19000,"b":68000},{"d":302.71,"r":61000,"b":7000},
{"d":303,"r":64000,"b":0},{"d":303.33,"r":62000,"b":5000},{"d":303.55,"r":44000,"b":35000},{"d":303.71,"r":63000,"b":4000},
{"d":304,"r":65000,"b":0},{"d":304.33,"r":178000,"b":0},{"d":304.55,"r":137000,"b":32000},{"d":304.71,"r":151000,"b":0},
{"d":305,"r":65000,"b":0},{"d":305.33,"r":209000,"b":0},{"d":305.55,"r":190000,"b":9000},{"d":305.71,"r":178000,"b":0},
{"d":306,"r":66000,"b":0},{"d":306.33,"r":208000,"b":0},{"d":306.55,"r":142000,"b":56000},{"d":306.71,"r":177000,"b":0},
{"d":307,"r":65000,"b":0},{"d":307.33,"r":205000,"b":0},{"d":307.55,"r":171000,"b":24000},{"d":307.71,"r":174000,"b":0},
{"d":308,"r":66000,"b":0},{"d":308.33,"r":200000,"b":0},{"d":308.55,"r":146000,"b":44000},{"d":308.71,"r":170000,"b":0},
{"d":309,"r":66000,"b":0},{"d":309.33,"r":68000,"b":0},{"d":309.55,"r":67000,"b":9000},{"d":309.71,"r":68000,"b":0},
{"d":310,"r":65000,"b":0},{"d":310.33,"r":67000,"b":0},{"d":310.55,"r":50000,"b":29000},{"d":310.71,"r":67000,"b":0},
{"d":311,"r":66000,"b":0},{"d":311.33,"r":221000,"b":0},{"d":311.55,"r":172000,"b":38000},{"d":311.71,"r":188000,"b":0},
{"d":312,"r":65000,"b":0},{"d":312.33,"r":203000,"b":0},{"d":312.55,"r":172000,"b":21000},{"d":312.71,"r":173000,"b":0},
{"d":313,"r":66000,"b":0},{"d":313.33,"r":219000,"b":0},{"d":313.55,"r":137000,"b":71000},{"d":313.71,"r":186000,"b":0},
{"d":314,"r":66000,"b":0},{"d":314.33,"r":218000,"b":0},{"d":314.55,"r":139000,"b":68000},{"d":314.71,"r":185000,"b":0},
{"d":315,"r":65000,"b":0},{"d":315.33,"r":199000,"b":0},{"d":315.55,"r":124000,"b":65000},{"d":315.71,"r":169000,"b":0},
{"d":316,"r":66000,"b":0},{"d":316.33,"r":68000,"b":0},{"d":316.55,"r":24000,"b":62000},{"d":316.71,"r":68000,"b":0},
{"d":317,"r":66000,"b":0},{"d":317.33,"r":67000,"b":0},{"d":317.55,"r":15000,"b":74000},{"d":317.71,"r":68000,"b":0},
{"d":318,"r":66000,"b":0},{"d":318.33,"r":198000,"b":0},{"d":318.55,"r":125000,"b":63000},{"d":318.71,"r":168000,"b":0},
{"d":319,"r":67000,"b":0},{"d":319.33,"r":226000,"b":0},{"d":319.55,"r":199000,"b":16000},{"d":319.71,"r":192000,"b":0},
{"d":320,"r":66000,"b":0},{"d":320.33,"r":209000,"b":0},{"d":320.55,"r":189000,"b":10000},{"d":320.71,"r":178000,"b":0},
{"d":321,"r":67000,"b":0},{"d":321.33,"r":220000,"b":0},{"d":321.55,"r":166000,"b":43000},{"d":321.71,"r":187000,"b":0},
{"d":322,"r":66000,"b":0},{"d":322.33,"r":211000,"b":0},{"d":322.55,"r":192000,"b":8000},{"d":322.71,"r":179000,"b":0},
{"d":323,"r":67000,"b":0},{"d":323.33,"r":68000,"b":0},{"d":323.55,"r":25000,"b":12000},{"d":323.71,"r":69000,"b":0},
{"d":324,"r":66000,"b":0},{"d":324.33,"r":68000,"b":0},{"d":324.55,"r":64000,"b":7000},{"d":324.71,"r":68000,"b":0},
{"d":325,"r":67000,"b":0},{"d":325.33,"r":212000,"b":0},{"d":325.55,"r":186000,"b":15000},{"d":325.71,"r":180000,"b":0},
{"d":326,"r":67000,"b":0},{"d":326.33,"r":215000,"b":0},{"d":326.55,"r":161000,"b":43000},{"d":326.71,"r":183000,"b":0},
{"d":327,"r":68000,"b":0},{"d":327.33,"r":217000,"b":0},{"d":327.55,"r":166000,"b":40000},{"d":327.71,"r":184000,"b":0},
{"d":328,"r":67000,"b":0},{"d":328.33,"r":220000,"b":0},{"d":328.55,"r":160000,"b":49000},{"d":328.71,"r":187000,"b":0},
{"d":329,"r":68000,"b":0},{"d":329.33,"r":209000,"b":0},{"d":329.55,"r":153000,"b":46000},{"d":329.71,"r":178000,"b":0},
{"d":330,"r":68000,"b":0},{"d":330.33,"r":69000,"b":0},{"d":330.55,"r":55000,"b":20000},{"d":330.71,"r":70000,"b":0},
{"d":331,"r":67000,"b":0},{"d":331.33,"r":69000,"b":0},{"d":331.55,"r":65000,"b":12000},{"d":331.71,"r":69000,"b":0},
{"d":332,"r":68000,"b":0},{"d":332.33,"r":220000,"b":0},{"d":332.55,"r":168000,"b":41000},{"d":332.71,"r":187000,"b":0},
{"d":333,"r":68000,"b":0},{"d":333.33,"r":230000,"b":0},{"d":333.55,"r":169000,"b":50000},{"d":333.71,"r":196000,"b":0},
{"d":334,"r":68000,"b":0},{"d":334.33,"r":227000,"b":0},{"d":334.55,"r":171000,"b":45000},{"d":334.71,"r":193000,"b":0},
{"d":335,"r":69000,"b":0},{"d":335.33,"r":236000,"b":0},{"d":335.55,"r":194000,"b":30000},{"d":335.71,"r":201000,"b":0},
{"d":336,"r":68000,"b":0},{"d":336.33,"r":225000,"b":0},{"d":336.55,"r":196000,"b":18000},{"d":336.71,"r":191000,"b":0},
{"d":337,"r":68000,"b":0},{"d":337.33,"r":70000,"b":0},{"d":337.55,"r":57000,"b":12000},{"d":337.71,"r":70000,"b":0},
{"d":338,"r":69000,"b":0},{"d":338.33,"r":70000,"b":0},{"d":338.55,"r":40000,"b":55000},{"d":338.71,"r":71000,"b":0},
{"d":339,"r":68000,"b":0},{"d":339.33,"r":220000,"b":0},{"d":339.55,"r":193000,"b":16000},{"d":339.71,"r":187000,"b":0},
{"d":340,"r":69000,"b":0},{"d":340.33,"r":215000,"b":0},{"d":340.55,"r":184000,"b":20000},{"d":340.71,"r":183000,"b":0},
{"d":341,"r":68000,"b":0},{"d":341.33,"r":216000,"b":0},{"d":341.55,"r":187000,"b":18000},{"d":341.71,"r":184000,"b":0},
{"d":342,"r":69000,"b":0},{"d":342.33,"r":214000,"b":0},{"d":342.55,"r":181000,"b":22000},{"d":342.71,"r":182000,"b":0},
{"d":343,"r":68000,"b":0},{"d":343.33,"r":211000,"b":0},{"d":343.55,"r":185000,"b":15000},{"d":343.71,"r":179000,"b":0},
{"d":344,"r":69000,"b":0},{"d":344.33,"r":70000,"b":0},{"d":344.55,"r":41000,"b":20000},{"d":344.71,"r":71000,"b":0},
{"d":345,"r":68000,"b":0},{"d":345.33,"r":70000,"b":0},{"d":345.55,"r":63000,"b":16000},{"d":345.71,"r":70000,"b":0},
{"d":346,"r":68000,"b":0},{"d":346.33,"r":221000,"b":0},{"d":346.55,"r":160000,"b":50000},{"d":346.71,"r":188000,"b":0},
{"d":347,"r":69000,"b":0},{"d":347.33,"r":202000,"b":0},{"d":347.55,"r":174000,"b":18000},{"d":347.71,"r":172000,"b":0},
{"d":348,"r":68000,"b":0},{"d":348.33,"r":232000,"b":0},{"d":348.55,"r":195000,"b":25000},{"d":348.71,"r":197000,"b":0},
{"d":349,"r":69000,"b":0},{"d":349.33,"r":221000,"b":0},{"d":349.55,"r":175000,"b":35000},{"d":349.71,"r":188000,"b":0},
{"d":350,"r":68000,"b":0},{"d":350.33,"r":218000,"b":0},{"d":350.55,"r":157000,"b":50000},{"d":350.71,"r":185000,"b":0},
{"d":351,"r":69000,"b":0},{"d":351.33,"r":70000,"b":0},{"d":351.55,"r":46000,"b":45000},{"d":351.71,"r":71000,"b":0},
{"d":352,"r":68000,"b":0},{"d":352.33,"r":70000,"b":0},{"d":352.55,"r":66000,"b":12000},{"d":352.71,"r":70000,"b":0},
{"d":353,"r":68000,"b":0},{"d":353.33,"r":224000,"b":0},{"d":353.55,"r":193000,"b":20000},{"d":353.71,"r":190000,"b":0},
{"d":354,"r":69000,"b":0},{"d":354.33,"r":223000,"b":0},{"d":354.55,"r":184000,"b":28000},{"d":354.71,"r":190000,"b":0},
{"d":355,"r":68000,"b":0},{"d":355.33,"r":223000,"b":0},{"d":355.55,"r":204000,"b":8000},{"d":355.71,"r":190000,"b":0},
{"d":356,"r":69000,"b":0},{"d":356.33,"r":70000,"b":0},{"d":356.55,"r":65000,"b":15000},{"d":356.71,"r":71000,"b":0},
{"d":357,"r":70000,"b":0},{"d":357.33,"r":71000,"b":0},{"d":357.55,"r":40000,"b":40000},{"d":357.71,"r":72000,"b":0},
{"d":358,"r":69000,"b":0},{"d":358.33,"r":70000,"b":0},{"d":358.55,"r":44000,"b":38000},{"d":358.71,"r":71000,"b":0},
{"d":359,"r":70000,"b":0},{"d":359.33,"r":71000,"b":0},{"d":359.55,"r":60000,"b":20000},{"d":359.71,"r":72000,"b":0},
{"d":360,"r":69000,"b":0},{"d":360.33,"r":70000,"b":0},{"d":360.55,"r":65000,"b":12000},{"d":360.71,"r":71000,"b":0},
{"d":361,"r":68000,"b":0},{"d":361.33,"r":206000,"b":0},{"d":361.55,"r":175000,"b":15000},{"d":361.71,"r":175000,"b":0},
{"d":362,"r":69000,"b":0},{"d":362.33,"r":70000,"b":0},{"d":362.55,"r":52000,"b":30000},{"d":362.71,"r":71000,"b":0},
{"d":363,"r":70000,"b":0},{"d":363.33,"r":71000,"b":0},{"d":363.55,"r":40000,"b":50000},{"d":363.71,"r":72000,"b":0},
{"d":364,"r":68000,"b":0},{"d":364.33,"r":65000,"b":0},{"d":364.55,"r":55000,"b":21000},{"d":364.71,"r":66000,"b":0},
{"d":364.96,"r":29000,"b":0}
    ]
  },
  "encoding": {
    "x": {
      "field": "d",
      "type": "quantitative",
      "scale": {"domain": [0, 365], "nice": false, "zero": false},
      "axis": {
        "title": null,
        "values": [0, 31, 59, 90, 120, 151, 181, 212, 243, 273, 304, 334],
        "labelExpr": "timeFormat(datetime(2022, 0, 1 + datum.value), '%d.%m.')",
        "grid": false,
        "tickSize": 4,
        "labelPadding": 5,
        "labelFlush": false,
        "labelOverlap": false
      }
    }
  },
  "layer": [
    {
      "mark": {"type": "line", "strokeWidth": 1.2, "opacity": 0.85, "clip": true},
      "encoding": {
        "y": {
          "field": "r",
          "type": "quantitative",
          "scale": {"domain": [0, 250000], "nice": false},
          "axis": {
            "title": "Energie ze sítě  v W",
            "values": [0, 50000, 100000, 150000, 200000, 250000],
            "format": "d",
            "tickSize": 16,
            "labelPadding": 3,
            "grid": true,
            "titleX": -94,
            "titleY": 141,
            "titleAngle": -90,
            "titleAlign": "center",
            "titleBaseline": "middle"
          }
        },
        "color": {
          "datum": "Energie ze sítě  [W]",
          "type": "nominal",
          "scale": {
            "domain": ["Energie ze sítě  [W]", "FV energie (DC) bez sestupné regulace měničem  [W]"],
            "range": ["#e3000f", "#1c6fc2"]
          },
          "legend": {
            "title": null,
            "orient": "none",
            "direction": "horizontal",
            "legendX": -110,
            "legendY": 324,
            "padding": 0,
            "symbolType": "stroke",
            "symbolSize": 324,
            "symbolStrokeWidth": 2.5,
            "symbolOpacity": 1,
            "labelOffset": 4,
            "columnPadding": 1,
            "labelLimit": 300,
            "labelBaseline": "alphabetic",
            "labelExpr": "datum.label == 'Energie ze sítě  [W]' ? ['Energie ze sítě  [W]', ' '] : ['FV energie (DC) bez sestupné', 'regulace měničem  [W]']",
            "encode": {"labels": {"update": {"dy": {"value": 3.5}}}}
          }
        }
      }
    },
    {
      "mark": {"type": "line", "strokeWidth": 1.1, "opacity": 0.75, "clip": true},
      "encoding": {
        "y": {"field": "b", "type": "quantitative"},
        "color": {"datum": "FV energie (DC) bez sestupné regulace měničem  [W]", "type": "nominal"}
      }
    }
  ]
}
